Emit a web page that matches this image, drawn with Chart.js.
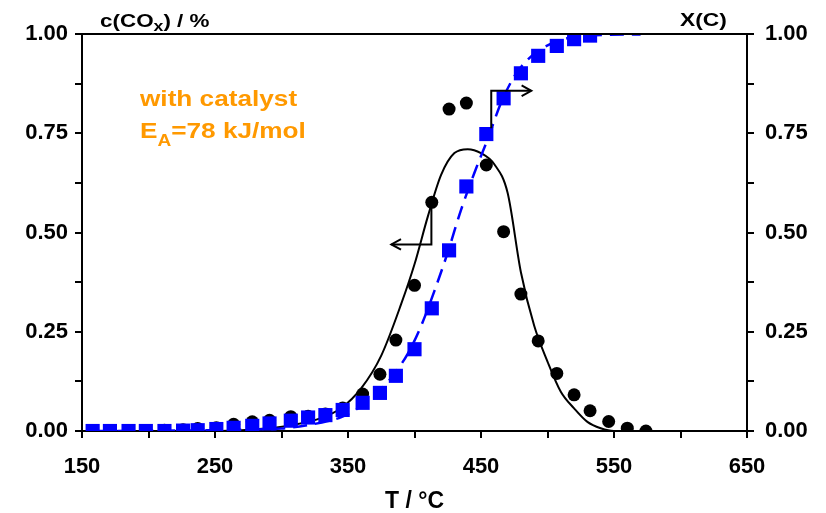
<!DOCTYPE html>
<html>
<head>
<meta charset="utf-8">
<script src="https://cdn.jsdelivr.net/npm/chart.js@4.4.0/dist/chart.umd.min.js"></script>
<style>
  body { margin: 0; background: #fff; }
  #wrap { width: 826px; height: 513px; }
</style>
</head>
<body>
<div id="wrap"><canvas id="myChart" width="826" height="513"></canvas></div>
<script>
// measured temperatures (shared by both series)
var temps = [158, 171, 185, 198, 212, 226, 237, 251, 264, 278, 291, 307, 320, 333, 346, 361,
    374, 386, 400, 413, 426, 439, 454, 467, 480, 493, 507, 520, 532, 546, 560, 574];
// c(COx) / %  (black circles)
var cCOx = [0, 0, 0, 0.001, 0.002, 0.003, 0.006, 0.008, 0.017, 0.023, 0.027, 0.036, 0.037, 0.043,
    0.058, 0.093, 0.143, 0.229, 0.367, 0.576, 0.811, 0.826, 0.670, 0.502, 0.345, 0.227, 0.145,
    0.091, 0.051, 0.024, 0.007, 0];
// X(C) (blue squares), measured up to 532 C
var convC = [0, 0, 0, 0, 0, 0.001, 0.002, 0.005, 0.008, 0.013, 0.019, 0.026, 0.034, 0.040,
    0.053, 0.071, 0.096, 0.139, 0.206, 0.309, 0.455, 0.616, 0.748, 0.838, 0.901, 0.945, 0.970,
    0.987, 0.996];

// model curves
var fitCT = [160, 250, 270, 290, 310, 330, 345, 360, 375, 390, 400, 410, 420, 430, 440, 450,
    460, 470, 480, 490, 500, 510, 520, 530, 540, 550, 570];
var fitC = [0, 0, 0.002, 0.007, 0.016, 0.033, 0.058, 0.108, 0.19, 0.32, 0.42, 0.54, 0.645, 0.70,
    0.71, 0.70, 0.672, 0.60, 0.40, 0.265, 0.175, 0.099, 0.057, 0.023, 0.007, 0, 0];
var fitXT = [160, 250, 280, 300, 320, 335, 345, 355, 365, 375, 385, 395, 405, 415, 425, 435,
    445, 455, 465, 475, 485, 495, 510, 525, 545, 570];
var fitX = [0, 0.002, 0.004, 0.006, 0.015, 0.025, 0.035, 0.052, 0.075, 0.105, 0.145, 0.195,
    0.265, 0.353, 0.45, 0.557, 0.65, 0.735, 0.826, 0.893, 0.935, 0.962, 0.985, 0.994, 0.998, 0.999];

// arrows pointing to the axis each series belongs to (data coords)
var leftArrow = [[412.7, 0.577], [412.7, 0.47], [382.6, 0.47]];
var rightArrow = [[457.7, 0.7625], [457.7, 0.857], [487.8, 0.857]];

var tickFont = { family: "'Liberation Sans', Arial, sans-serif", size: 22, weight: 'bold' };
var orange = '#FF9900';
var blue = '#0000FF';

function pairs(xs, ys) {
    var out = [];
    for (var i = 0; i < ys.length; i++) {
        out.push({ x: xs[i], y: ys[i] });
    }
    return out;
}

function quarterLabel(v) {
    var q = v * 4;
    if (Math.abs(q - Math.round(q)) < 1e-6) return v.toFixed(2);
    return '';
}

function drawArrow(ctx, pts, xs, ys) {
    var p = pts.map(function (d) {
        return [xs.getPixelForValue(d[0]), ys.getPixelForValue(d[1])];
    });
    ctx.beginPath();
    ctx.moveTo(p[0][0], p[0][1]);
    ctx.lineTo(p[1][0], p[1][1]);
    ctx.lineTo(p[2][0], p[2][1]);
    ctx.stroke();
    var a = Math.atan2(p[2][1] - p[1][1], p[2][0] - p[1][0]);
    var L = 11, w = 0.5;
    ctx.beginPath();
    ctx.moveTo(p[2][0] - L * Math.cos(a - w), p[2][1] - L * Math.sin(a - w));
    ctx.lineTo(p[2][0], p[2][1]);
    ctx.lineTo(p[2][0] - L * Math.cos(a + w), p[2][1] - L * Math.sin(a + w));
    ctx.stroke();
}

// text runs drawn with a slight horizontal stretch like the original figure
function drawRuns(ctx, runs, x, y, sx) {
    ctx.save();
    ctx.translate(x, y);
    ctx.scale(sx, 1);
    var cur = 0;
    for (var i = 0; i < runs.length; i++) {
        ctx.font = 'bold ' + runs[i][1] + "px 'Liberation Sans', Arial, sans-serif";
        ctx.fillText(runs[i][0], cur, runs[i][2]);
        cur += ctx.measureText(runs[i][0]).width;
    }
    ctx.restore();
}

var overlay = {
    id: 'overlay',
    afterDraw: function (chart) {
        var ctx = chart.ctx;
        var ca = chart.chartArea;
        ctx.save();
        ctx.strokeStyle = '#000';
        ctx.lineWidth = 2;
        ctx.beginPath();
        ctx.moveTo(ca.left, ca.top);
        ctx.lineTo(ca.right, ca.top);
        ctx.stroke();

        drawArrow(ctx, leftArrow, chart.scales.x, chart.scales.y);
        drawArrow(ctx, rightArrow, chart.scales.x, chart.scales.y2);

        ctx.textBaseline = 'alphabetic';
        ctx.textAlign = 'left';
        ctx.fillStyle = '#000';
        drawRuns(ctx, [['c(CO', 19, 0], ['x', 15, 4], [') / %', 19, 0]], 100, 27, 1.18);
        drawRuns(ctx, [['X(C)', 19, 0]], 680, 26, 1.2);

        ctx.fillStyle = orange;
        drawRuns(ctx, [['with catalyst', 22, 0]], 140, 106, 1.19);
        drawRuns(ctx, [['E', 22, 0], ['A', 16, 8], ['=78 kJ/mol', 22, 0]], 140, 138, 1.19);

        ctx.fillStyle = '#000';
        ctx.textAlign = 'center';
        ctx.font = "bold 23px 'Liberation Sans', Arial, sans-serif";
        ctx.fillText('T / \u00B0C', (ca.left + ca.right) / 2, 508);
        ctx.restore();
    }
};

function renderChart() {
    var ctx = document.getElementById('myChart');
    new Chart(ctx, {
        data: {
            datasets: [{
                type: 'line',
                label: 'c fit',
                data: pairs(fitCT, fitC),
                borderColor: '#000',
                borderWidth: 2,
                pointRadius: 0,
                fill: false,
                cubicInterpolationMode: 'monotone',
                yAxisID: 'y',
                order: 4
            }, {
                type: 'scatter',
                label: 'c(COx)',
                data: pairs(temps, cCOx),
                backgroundColor: '#000',
                borderWidth: 0,
                pointRadius: 6.5,
                yAxisID: 'y',
                order: 3
            }, {
                type: 'line',
                label: 'X fit',
                data: pairs(fitXT, fitX),
                borderColor: blue,
                borderWidth: 2.5,
                borderDash: [14, 8],
                pointRadius: 0,
                fill: false,
                cubicInterpolationMode: 'monotone',
                yAxisID: 'y2',
                order: 2
            }, {
                type: 'scatter',
                label: 'X(C)',
                data: pairs(temps, convC),
                backgroundColor: blue,
                borderWidth: 0,
                pointStyle: 'rect',
                pointRadius: 10,
                yAxisID: 'y2',
                order: 1
            }]
        },
        plugins: [overlay],
        options: {
            responsive: false,
            animation: false,
            events: [],
            layout: { padding: { top: 34, left: 0, right: 0, bottom: 0 } },
            plugins: {
                legend: { display: false },
                tooltip: { enabled: false }
            },
            scales: {
                x: {
                    type: 'linear',
                    min: 150,
                    max: 650,
                    afterFit: function (s) { s.height = 82; },
                    border: { display: true, color: '#000', width: 2 },
                    grid: { drawOnChartArea: false, color: '#000', lineWidth: 2, tickLength: 7 },
                    ticks: {
                        stepSize: 50,
                        autoSkip: false,
                        maxRotation: 0,
                        color: '#000',
                        font: tickFont,
                        padding: 16,
                        callback: function (v) { return (v - 150) % 100 === 0 ? String(v) : ''; }
                    }
                },
                y: {
                    position: 'left',
                    min: 0,
                    max: 1,
                    afterFit: function (s) { s.width = 82; },
                    border: { display: true, color: '#000', width: 2 },
                    grid: { drawOnChartArea: false, color: '#000', lineWidth: 2, tickLength: 7 },
                    ticks: {
                        stepSize: 0.125,
                        color: '#000',
                        font: tickFont,
                        padding: 7,
                        callback: quarterLabel
                    }
                },
                y2: {
                    position: 'right',
                    min: 0,
                    max: 1,
                    afterFit: function (s) { s.width = 79; },
                    border: { display: true, color: '#000', width: 2 },
                    grid: { drawOnChartArea: false, color: '#000', lineWidth: 2, tickLength: 7 },
                    ticks: {
                        stepSize: 0.125,
                        color: '#000',
                        font: tickFont,
                        padding: 11,
                        callback: quarterLabel
                    }
                }
            }
        }
    });
}

renderChart();
</script>
</body>
</html>
